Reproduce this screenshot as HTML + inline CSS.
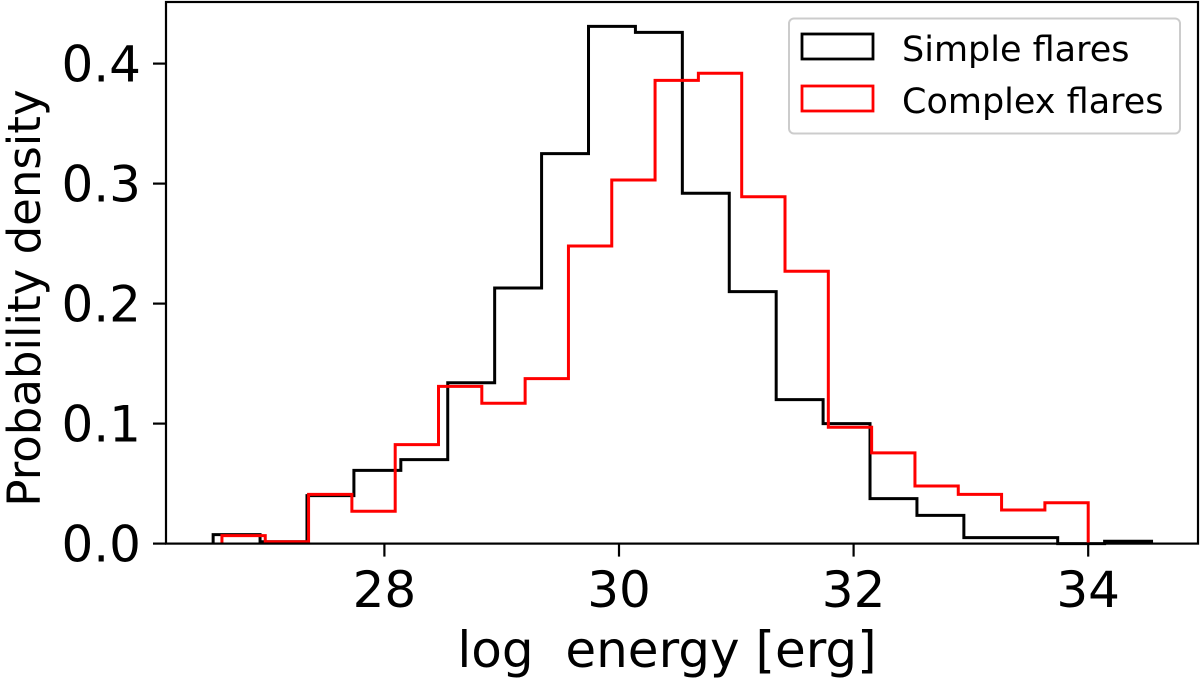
<!DOCTYPE html>
<html><head><meta charset="utf-8"><style>
html,body{margin:0;padding:0;background:#fff;}
svg{display:block;font-family:"DejaVu Sans","Liberation Sans",sans-serif;}
</style></head><body>
<svg id="chart" width="1200" height="679" viewBox="0 0 1200 679" xmlns="http://www.w3.org/2000/svg">
<g id="plot"></g>
<g id="axes"></g>
<g>
<rect x="789" y="18.5" width="391" height="115" rx="5" fill="#fff" fill-opacity="0.8" stroke="#ccc" stroke-width="2"/>
<rect x="802" y="34" width="71" height="25" fill="none" stroke="#000" stroke-width="2.8"/>
<text x="902" y="61" font-size="35" fill="#000">Simple flares</text>
<rect x="802" y="86" width="71" height="25" fill="none" stroke="#f00" stroke-width="2.8"/>
<text x="902" y="113" font-size="35" fill="#000">Complex flares</text>
</g>
<text x="667" y="667" font-size="50" text-anchor="middle" xml:space="preserve">log  energy [erg]</text>
<text x="0" y="0" font-size="45" text-anchor="middle" transform="translate(40,298) rotate(-90)">Probability density</text>
</svg>
<script>
const simpleStart = 26.54;
const simpleWidth = 0.4;
const simpleValues = [0.0075,0.0015,0.040,0.061,0.070,0.134,0.213,0.325,0.431,0.426,0.292,0.210,0.120,0.100,0.0375,0.0235,0.005,0.005,0,0.002];
const complexStart = 26.615;
const complexWidth = 0.36925;
const complexValues = [0.0066,0.0015,0.041,0.027,0.0825,0.131,0.117,0.1375,0.248,0.303,0.386,0.392,0.289,0.227,0.097,0.0756,0.048,0.041,0.028,0.034];
const xTicks = [28,30,32,34];
const yTicks = [0.0,0.1,0.2,0.3,0.4];
const yTickLabels = ["0.0","0.1","0.2","0.3","0.4"];

const X0=166,X1=1198,Y0=543.6,Y1=2;
function xs(v){return 619+(v-30)*117.3;}
function ys(v){return Y0-v*1200;}
const NS="http://www.w3.org/2000/svg";
const plot=document.getElementById('plot');
const axes=document.getElementById('axes');
function mk(tag,attrs,parent){const e=document.createElementNS(NS,tag);for(const k in attrs)e.setAttribute(k,attrs[k]);parent.appendChild(e);return e;}

function stepPath(start,w,vals){
  let d='M'+xs(start)+','+ys(0);
  vals.forEach((v,i)=>{d+=' L'+xs(start+i*w)+','+ys(v)+' L'+xs(start+(i+1)*w)+','+ys(v);});
  d+=' L'+xs(start+vals.length*w)+','+ys(0);
  return d;
}
const ps=mk('path',{d:stepPath(simpleStart,simpleWidth,simpleValues),fill:'none',stroke:'#000','stroke-width':3,'stroke-linejoin':'miter'},plot);


const pc=mk('path',{d:stepPath(complexStart,complexWidth,complexValues),fill:'none',stroke:'#f00','stroke-width':3,'stroke-linejoin':'miter'},plot);



const frame=mk('rect',{x:X0,y:Y1,width:X1-X0,height:Y0-Y1,fill:'none',stroke:'#000','stroke-width':2.2},axes);


xTicks.forEach(t=>{
  const l=mk('line',{x1:xs(t),x2:xs(t),y1:Y0,y2:Y0+13,stroke:'#000','stroke-width':2.2},axes);
  
  
  const tx=mk('text',{x:xs(t),y:607,'font-size':50,'text-anchor':'middle'},axes);
  
  
  tx.textContent=t;
});
yTicks.forEach((t,i)=>{
  const l=mk('line',{x1:X0-13,x2:X0,y1:ys(t),y2:ys(t),stroke:'#000','stroke-width':2.2},axes);
  
  
  const tx=mk('text',{x:X0-25,y:ys(t)+18,'font-size':50,'text-anchor':'end'},axes);
  
  
  tx.textContent=yTickLabels[i];
});
</script>
</body></html>
